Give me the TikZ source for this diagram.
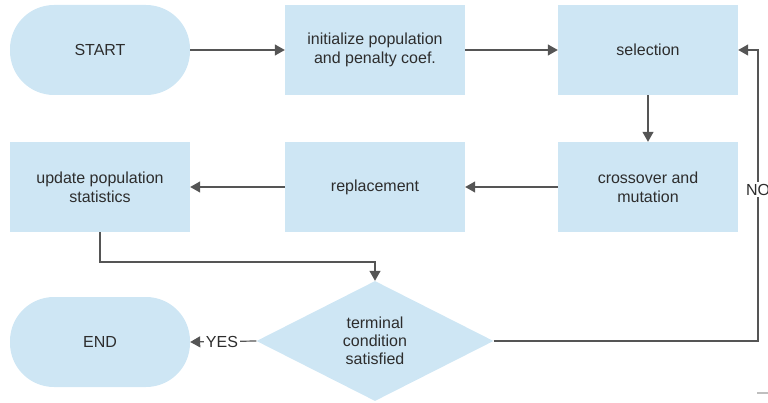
\documentclass[tikz,border=0pt]{standalone}
\usepackage{fontspec}
\setmainfont{Liberation Sans}
\usepackage{xcolor}
\usepackage{tikz}
\usetikzlibrary{shapes.geometric, arrows.meta, positioning, calc}
\definecolor{boxblue}{RGB}{206,230,244}
\definecolor{linegray}{RGB}{85,85,85}
\definecolor{txtgray}{RGB}{45,45,45}
\tikzset{
  procbox/.style={rectangle, fill=boxblue, draw=none,
    minimum width=180pt, minimum height=90pt, align=center,
    text=txtgray, font=\fontsize{16}{19}\selectfont},
  termbox/.style={procbox, rounded corners=44pt},
  decbox/.style={diamond, fill=boxblue, draw=none,
    minimum width=237pt, minimum height=120pt, inner sep=0pt,
    align=center, text=txtgray, font=\fontsize{16}{18}\selectfont},
  arrow/.style={-{Triangle[length=10pt,width=11pt]}, line width=1.2pt, color=linegray},
  lbl/.style={fill=white, inner sep=2pt, text=txtgray,
    font=\fontsize{16}{19}\selectfont}
}
\begin{document}
\begin{tikzpicture}[x=1pt, y=-1pt]
  \useasboundingbox (0,0) rectangle (768,403);

  \node[termbox] (start) at (100,50) {START};
  \node[procbox] (init) at (375,50) {initialize population\\and penalty coef.};
  \node[procbox] (sel) at (648,50) {selection};
  \node[procbox] (cross) at (648,187) {crossover and\\mutation};
  \node[procbox] (repl) at (375,187) {replacement};
  \node[procbox] (upd) at (100,187) {update population\\statistics};
  \node[termbox] (endn) at (100,342) {END};
  \node[decbox] (cond) at (375,341) {terminal\\condition\\satisfied};

  \coordinate (bend1) at (100,262);
  \coordinate (bend2) at (758,341);
  \coordinate (bend3) at (758,50);

  \draw[arrow] (start) -- (init);
  \draw[arrow] (init) -- (sel);
  \draw[arrow] (sel) -- (cross);
  \draw[arrow] (cross) -- (repl);
  \draw[arrow] (repl) -- (upd);
  \draw[arrow] (upd.south) -- (bend1) -| (cond.north);
  \draw[arrow] (cond.west) -- node[lbl, pos=0.52] {YES} (endn.east);
  \draw[arrow] (cond.east) -- (bend2) -- node[lbl, pos=0.52] {NO} (bend3) -- (sel.east);

  % small mark at the lower right
  \draw[line width=1.2pt, color=black!25] (757,393) -- (768,393);
\end{tikzpicture}
\end{document}
